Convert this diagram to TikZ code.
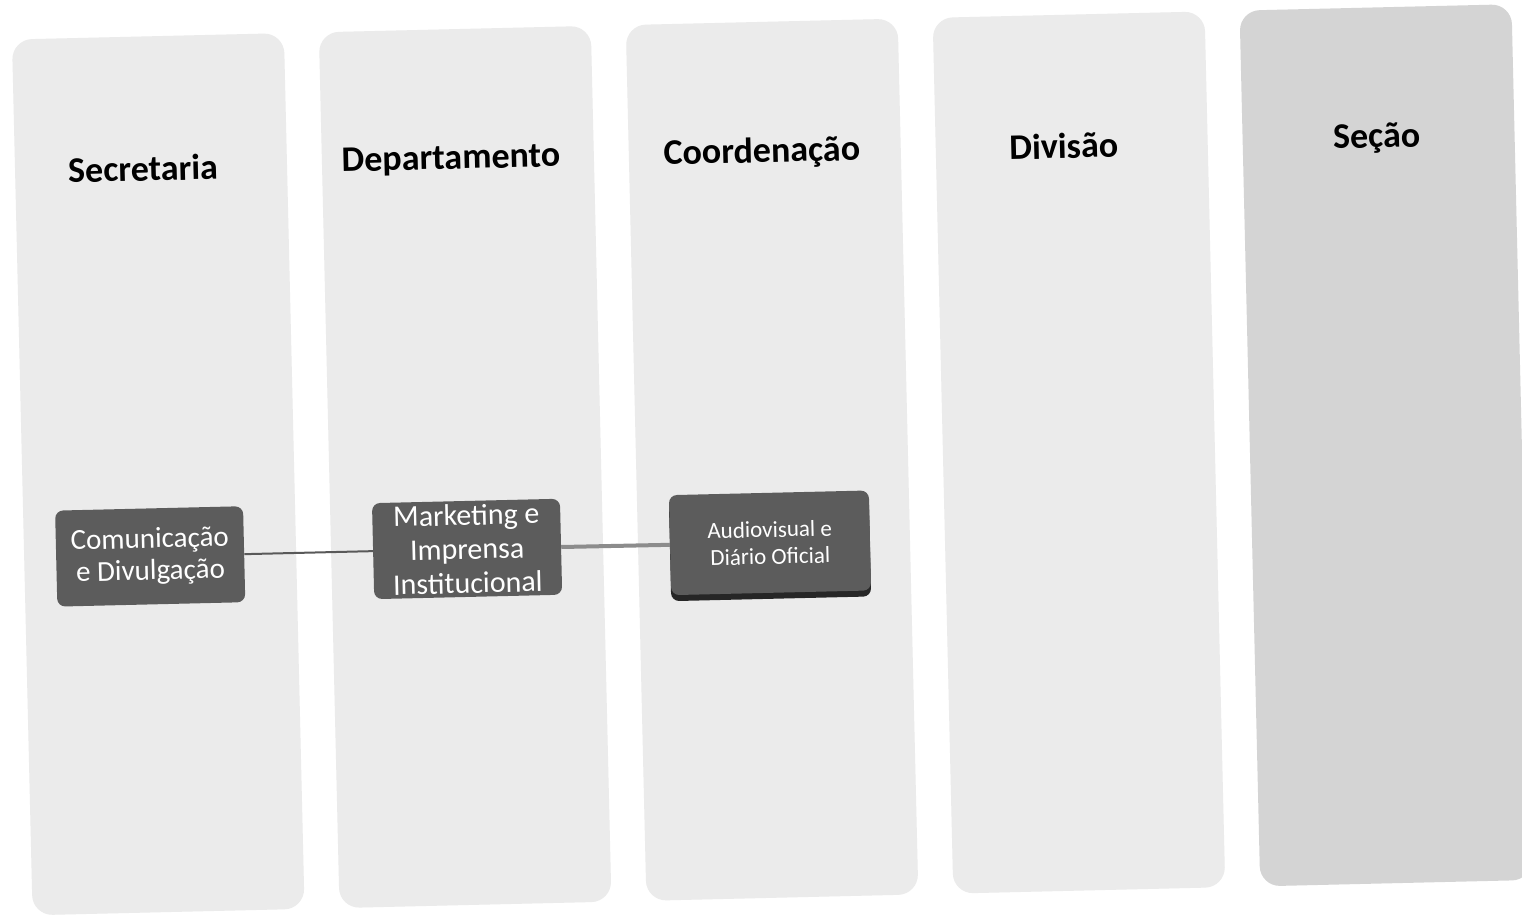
\documentclass[tikz,border=0pt]{standalone}
\usepackage{fontspec}
\setmainfont{Carlito}
\usetikzlibrary{shadows}
\newcommand{\colw}{272pt}
\newcommand{\colh}{876pt}

\tikzset{
  column/.style={fill=black!8, rounded corners=20pt, minimum width=\colw, minimum height=\colh, inner sep=0pt},
  header/.style={font=\bfseries\fontsize{36}{42}\selectfont},
  unit/.style={fill=black!64, text=white, rounded corners=8pt, align=center, inner sep=0pt,
    minimum width=188pt, minimum height=96pt, font=\fontsize{30}{34}\selectfont},
}

\begin{document}
\begin{tikzpicture}[x=1pt,y=-1pt]
    \fill[white] (0,0) rectangle (1522,916);
    \useasboundingbox (0,0) rectangle (1522,916);
    \begin{scope}[rotate around={1.35:(761,458)}, transform shape]
    % the five levels
        \node (secretaria) at (158,460) [column] {};
        \node (departamento) at (465,460) [column] {};
        \node (coordenacao) at (772,460) [column] {};
        \node (divisao) at (1079,460) [column] {};
        \node (secao) at (1386,460) [column, fill=black!17] {};

        \node (hsecretaria) at (150,154) [header] {Secretaria};
        \node (hdepartamento) at (458,153) [header] {Departamento};
        \node (hcoordenacao) at (769,153) [header] {Coordenação};
        \node (hdivisao) at (1071,153) [header] {Divisão};
        \node (hsecao) at (1384,153) [header] {Seção};

    % units and links
        \node (comunicacao) at (148,542) [unit, font=\fontsize{29}{32}\selectfont] {Comunicação\\e Divulgação};
        \node (marketing) at (465,542) [unit] {Marketing e\\Imprensa\\Institucional};
        \node (audiovisual) at (768,543) [unit, minimum width=200pt, minimum height=100pt,
          font=\fontsize{23}{27}\selectfont,
          drop shadow={shadow xshift=0pt, shadow yshift=-6pt, fill=black!85, opacity=1}] {Audiovisual e\\Diário Oficial};

        \draw[line width=2pt, black!65] (comunicacao) to (marketing);
        \draw[line width=4pt, black!45] (marketing) to (audiovisual);
    \end{scope}
\end{tikzpicture}
\end{document}
